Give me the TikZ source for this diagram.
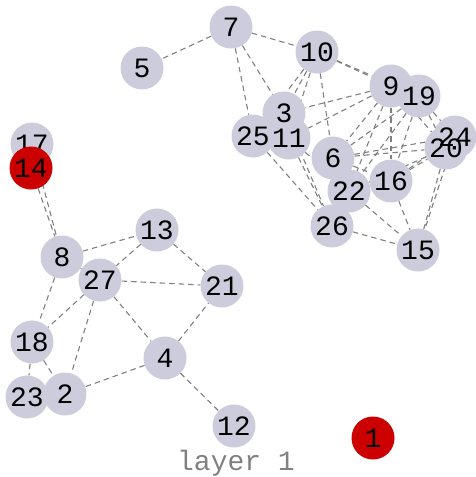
\documentclass[tikz,border=0pt]{standalone}
\usepackage{fontspec}
\setmonofont{Liberation Mono}
\usetikzlibrary{backgrounds}

\definecolor{vgray}{RGB}{204,204,220}
\definecolor{vred}{RGB}{204,0,0}

\begin{document}
\begin{tikzpicture}[
  x=1pt,
  y=-1pt,
  vert/.style={circle, fill=vgray, minimum size=43pt, inner sep=0pt},
  hit/.style={vert, fill=vred},
  tag/.style={font=\ttfamily\fontsize{28}{28}\selectfont, inner sep=0pt},
  link/.style={gray, dashed, dash pattern=on 5.5pt off 4pt, line width=1.1pt}
]
\useasboundingbox (0,0) rectangle (476,477);

\node[vert] (n17) at (32,144) {};
\node[tag] (t17) at (n17) {17};
\node[hit] (n14) at (31,168) {};
\node[vert] (n7) at (231,27) {};
\node[vert] (n5) at (142,68) {};
\node[vert] (n10) at (317,52) {};
\node[vert] (n9) at (391,86) {};
\node[vert] (n19) at (419,96) {};
\node[vert] (n3) at (284,113) {};
\node[vert] (n25) at (253,136) {};
\node[vert] (n11) at (289,138) {};
\node[vert] (n24) at (455,137) {};
\node[vert] (n20) at (446,148) {};
\node[vert] (n6) at (333,158) {};
\node[vert] (n16) at (391,181) {};
\node[vert] (n22) at (349,191) {};
\node[vert] (n26) at (332,226) {};
\node[vert] (n15) at (418,250) {};
\node[vert] (n8) at (62,257) {};
\node[vert] (n13) at (157,230) {};
\node[vert] (n27) at (100,280) {};
\node[vert] (n21) at (222,286) {};
\node[vert] (n18) at (32,342) {};
\node[vert] (n4) at (165,358) {};
\node[vert] (n23) at (27,397) {};
\node[vert] (n2) at (65,394) {};
\node[vert] (n12) at (234,426) {};
\node[hit] (n1) at (373,438) {};

% labels on top of all discs
\foreach \k in {14,7,5,10,9,19,3,25,11,24,20,6,16,22,26,15,8,13,27,21,18,4,23,2,12,1}
  \node[tag] (t\k) at (n\k) {\k};

\node[tag, gray] (title) at (236,463) {layer 1};

\begin{scope}[on background layer]
% upper cluster
\draw[link] (n7) -- (n5);
\draw[link] (n7) -- (n10);
\draw[link] (n7) -- (n3);
\draw[link] (n7) -- (n25);
\draw[link] (n10) -- (n9);
\draw[link] (n10) -- (n19);
\draw[link] (n10) -- (n3);
\draw[link] (n10) -- (n11);
\draw[link] (n10) -- (n25);
\draw[link] (n10) -- (n6);
\draw[link] (n9) -- (n3);
\draw[link] (n9) -- (n11);
\draw[link] (n9) -- (n6);
\draw[link] (n9) -- (n22);
\draw[link] (n9) -- (n16);
\draw[link] (n9) -- (n20);
\draw[link] (n19) -- (n6);
\draw[link] (n19) -- (n22);
\draw[link] (n19) -- (n16);
\draw[link] (n19) -- (n24);
\draw[link] (n19) -- (n20);
\draw[link] (n25) -- (n26);
\draw[link] (n11) -- (n26);
\draw[link] (n11) -- (n22);
\draw[link] (n3) -- (n26);
\draw[link] (n6) -- (n16);
\draw[link] (n6) -- (n20);
\draw[link] (n6) -- (n24);
\draw[link] (n16) -- (n20);
\draw[link] (n16) -- (n24);
\draw[link] (n22) -- (n20);
\draw[link] (n22) -- (n15);
\draw[link] (n16) -- (n15);
\draw[link] (n20) -- (n15);
\draw[link] (n24) -- (n15);
\draw[link] (n26) -- (n15);
% lower cluster
\draw[link] (n14) -- (n8);
\draw[link] (n17) -- (n8);
\draw[link] (n8) -- (n13);
\draw[link] (n8) -- (n27);
\draw[link] (n8) -- (n18);
\draw[link] (n13) -- (n27);
\draw[link] (n13) -- (n21);
\draw[link] (n27) -- (n21);
\draw[link] (n27) -- (n4);
\draw[link] (n27) -- (n18);
\draw[link] (n27) -- (n2);
\draw[link] (n18) -- (n2);
\draw[link] (n18) -- (n23);
\draw[link] (n4) -- (n21);
\draw[link] (n4) -- (n2);
\draw[link] (n4) -- (n12);
\end{scope}
\end{tikzpicture}
\end{document}
